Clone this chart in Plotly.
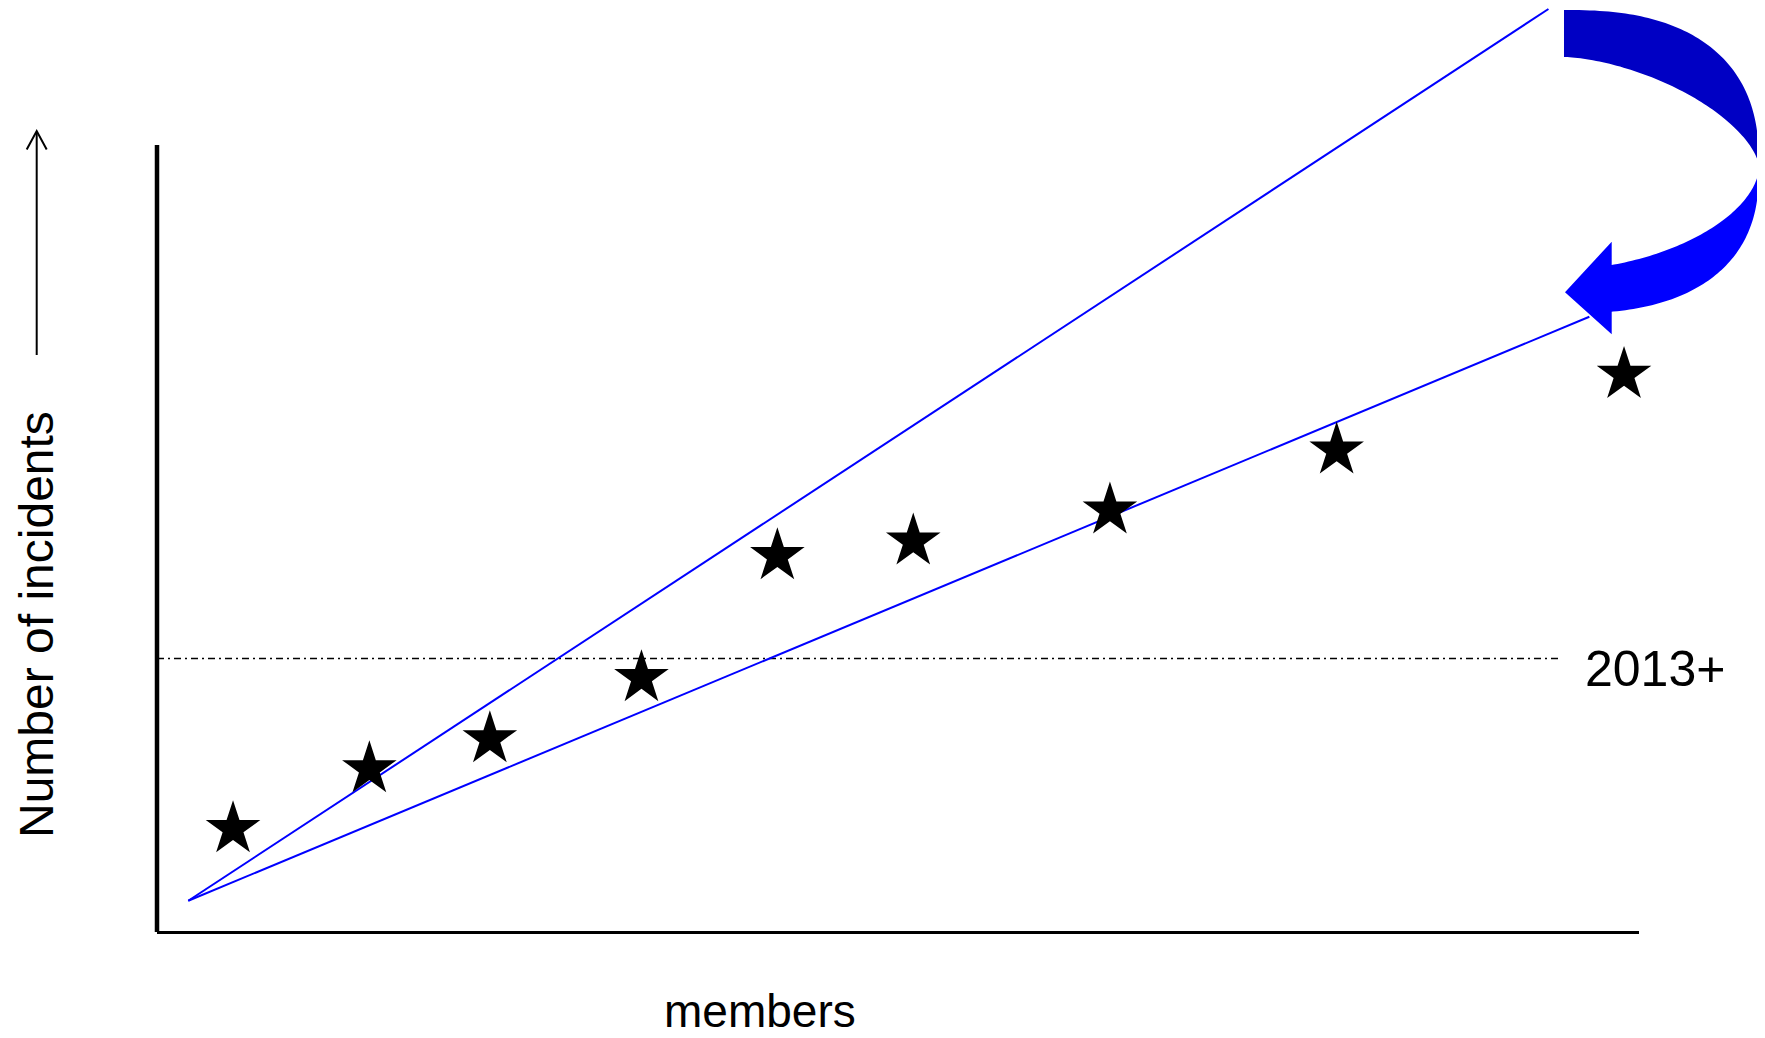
import numpy as np
import plotly.graph_objects as go

# ---------------- data ----------------
members = [5.13, 14.33, 22.46, 32.69, 41.86, 51.03, 64.30, 79.60, 98.99]
incidents = [11.06, 17.55, 20.80, 27.42, 40.63, 42.22, 45.58, 52.08, 60.27]

steep_x = [2.11, 93.89]
steep_y = [3.28, 99.89]
shallow_x = [2.11, 96.65]
shallow_y = [3.28, 66.55]

threshold_x = [0.0, 94.6]
threshold_y = [29.52, 29.52]
threshold_label = "2013+"

x_title = "members"
y_title = "Number of incidents"

# ---------------- layout geometry ----------------
W, H = 1765, 1038
OFF = 8  # page body margin of the html page
ML, MR, MT, MB = 149, 134, 0, 115
PW = W - ML - MR
PH = H - MT - MB
FONT = "Liberation Sans, Arial, sans-serif"


def pp(px, py):
    """page pixel -> paper coordinates (for decorations only)"""
    fx, fy = px - OFF, py - OFF
    return (fx - ML) / PW, (H - MB - fy) / PH


def path_from(points, close=True):
    s = ""
    for i, (px, py) in enumerate(points):
        x, y = pp(px, py)
        s += ("M" if i == 0 else "L") + f"{x:.5f},{y:.5f} "
    return s + ("Z" if close else "")


def sarc(cx, cy, rx, ry, a0, a1, n_exp=2.0, n=80):
    """super-ellipse arc"""
    t = np.linspace(np.radians(a0), np.radians(a1), n)
    c, s = np.cos(t), np.sin(t)
    xs = cx + rx * np.sign(c) * np.abs(c) ** (2.0 / n_exp)
    ys = cy + ry * np.sign(s) * np.abs(s) ** (2.0 / n_exp)
    return list(zip(xs, ys))


fig = go.Figure()

fig.add_trace(go.Scatter(x=threshold_x, y=threshold_y, mode="lines",
                         line=dict(color="black", width=1.5, dash="7px,4px,2px,4px"),
                         hoverinfo="skip", showlegend=False))
fig.add_trace(go.Scatter(x=steep_x, y=steep_y, mode="lines",
                         line=dict(color="#0000FF", width=2),
                         showlegend=False, cliponaxis=False))
fig.add_trace(go.Scatter(x=shallow_x, y=shallow_y, mode="lines",
                         line=dict(color="#0000FF", width=2),
                         showlegend=False, cliponaxis=False))
fig.add_trace(go.Scatter(x=members, y=incidents, mode="markers",
                         marker=dict(symbol="star", size=41, color="black",
                                     line=dict(width=0)),
                         showlegend=False, cliponaxis=False))

shapes = []
# vertical axis (shorter than plot area)
x0, y0 = pp(157, 145)
x1, y1 = pp(157, 932)
shapes.append(dict(type="line", xref="paper", yref="paper", x0=x0, y0=y0, x1=x1, y1=y1,
                   line=dict(color="black", width=4.5)))
# small up-arrow next to the y title
a0 = pp(36.7, 355)
a1 = pp(36.7, 132)
shapes.append(dict(type="line", xref="paper", yref="paper", x0=a0[0], y0=a0[1],
                   x1=a1[0], y1=a1[1], line=dict(color="black", width=2)))
shapes.append(dict(type="path", xref="paper", yref="paper",
                   path=path_from([(26.7, 149.5), (36.7, 131), (46.7, 149.5)], close=False),
                   line=dict(color="black", width=2)))

# curved blue arrow (top-right)
cx, cy = 1564, 167
top_band = (sarc(cx, cy, 195, 157, -90, 0, n_exp=2.5)
            + sarc(cx, cy, 195, 110, 0, -90, n_exp=1.6))
shapes.append(dict(type="path", xref="paper", yref="paper", path=path_from(top_band),
                   fillcolor="#0000C4", line=dict(width=0)))

outer = [p for p in sarc(cx, cy, 195, 146.5, 0, 90, n_exp=2.5) if p[0] >= 1611.7]
inner = [p for p in sarc(cx, cy, 195, 102.6, 90, 0, n_exp=1.8) if p[0] >= 1611.7]
head = [(1611.7, 311.7), (1611.7, 334.3), (1565, 292.3), (1611.7, 241.7), (1611.7, 265)]
bottom_band = outer + head + inner
shapes.append(dict(type="path", xref="paper", yref="paper", path=path_from(bottom_band),
                   fillcolor="#0000FF", line=dict(width=0)))

annotations = []
lx, ly = pp(1583, 669)
annotations.append(dict(xref="paper", yref="paper", x=lx, y=ly, xanchor="left",
                        yanchor="middle", text=threshold_label, showarrow=False,
                        font=dict(family=FONT, size=50, color="black")))
mx, my = pp(760, 1011)
annotations.append(dict(xref="paper", yref="paper", x=mx, y=my, xanchor="center",
                        yanchor="middle", text=x_title, showarrow=False,
                        font=dict(family=FONT, size=46, color="black")))
nx, ny = pp(36, 625)
annotations.append(dict(xref="paper", yref="paper", x=nx, y=ny, xanchor="center",
                        yanchor="middle", text=y_title, textangle=-90, showarrow=False,
                        font=dict(family=FONT, size=48, color="black")))

fig.update_layout(
    width=W, height=H,
    margin=dict(l=ML, r=MR, t=MT, b=MB, pad=0),
    paper_bgcolor="white", plot_bgcolor="white",
    shapes=shapes, annotations=annotations,
    xaxis=dict(range=[0, 100], showgrid=False, zeroline=False, showticklabels=False,
               ticks="", showline=True, linecolor="black", linewidth=2.5, fixedrange=True),
    yaxis=dict(range=[0, 100], showgrid=False, zeroline=False, showticklabels=False,
               ticks="", showline=False, fixedrange=True),
)

fig.write_html("out.html")
